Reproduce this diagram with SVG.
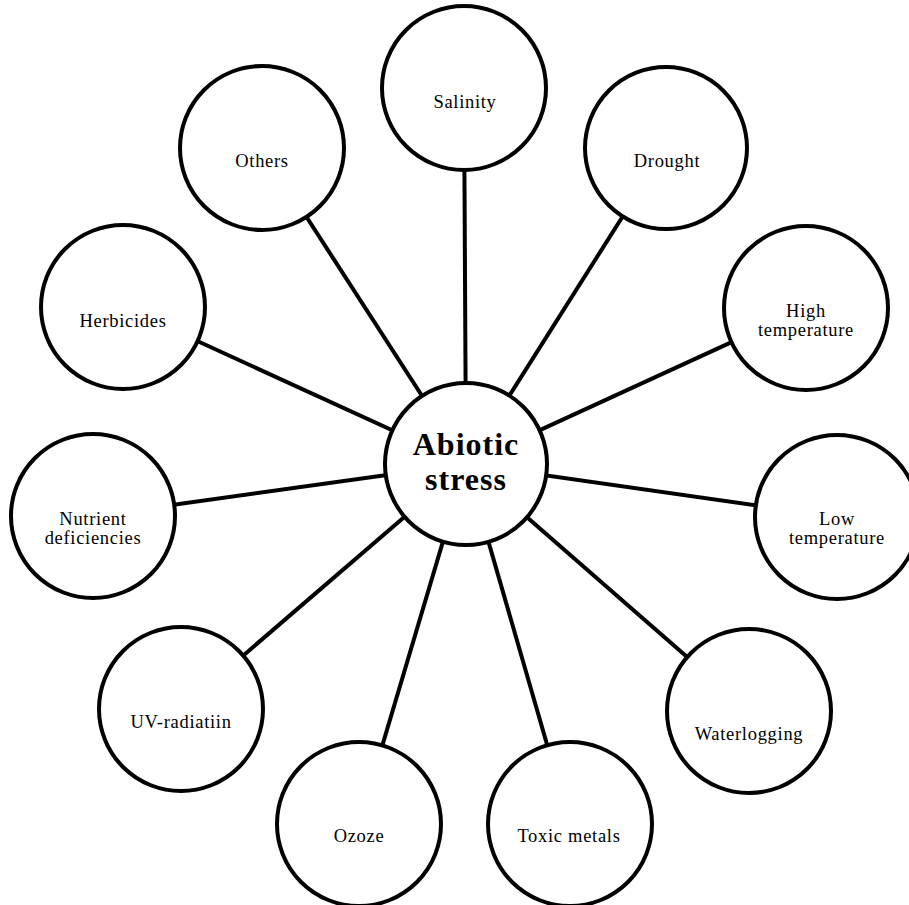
<svg xmlns="http://www.w3.org/2000/svg" width="909" height="905" viewBox="0 0 909 905">
<style>
.c{fill:#fff;stroke:#000;stroke-width:4}
.l{stroke:#000;stroke-width:4;fill:none}
.t{font-family:"Liberation Serif","Times New Roman",serif;font-size:18.5px;letter-spacing:0.7px;text-anchor:middle;fill:#000}
.m{font-family:"Liberation Serif","Times New Roman",serif;font-size:32px;font-weight:bold;letter-spacing:1px;text-anchor:middle;fill:#000}
</style>
<rect width="909" height="905" fill="#fff"/>
<g id="connectors">
<line class="l" x1="466" y1="464" x2="464" y2="88"/>
<line class="l" x1="466" y1="464" x2="666" y2="148"/>
<line class="l" x1="466" y1="464" x2="806" y2="308"/>
<line class="l" x1="466" y1="464" x2="837" y2="517"/>
<line class="l" x1="466" y1="464" x2="749" y2="711"/>
<line class="l" x1="466" y1="464" x2="570" y2="824"/>
<line class="l" x1="466" y1="464" x2="359" y2="824"/>
<line class="l" x1="466" y1="464" x2="181" y2="709"/>
<line class="l" x1="466" y1="464" x2="93" y2="516"/>
<line class="l" x1="466" y1="464" x2="123" y2="307"/>
<line class="l" x1="466" y1="464" x2="262" y2="148"/>
</g>
<g id="abiotic"><circle class="c" cx="466" cy="464" r="81"/><text class="m" x="466" y="455">Abiotic</text><text class="m" x="466" y="490">stress</text></g>
<g id="salinity"><circle class="c" cx="464" cy="88" r="82"/><text class="t" x="465" y="108">Salinity</text></g>
<g id="drought"><circle class="c" cx="666" cy="148" r="81"/><text class="t" x="667" y="167">Drought</text></g>
<g id="hightemp"><circle class="c" cx="806" cy="308" r="82"/><text class="t" x="806" y="317">High</text><text class="t" x="806" y="336">temperature</text></g>
<g id="lowtemp"><circle class="c" cx="837" cy="517" r="82"/><text class="t" x="837" y="525">Low</text><text class="t" x="837" y="544">temperature</text></g>
<g id="waterlogging"><circle class="c" cx="749" cy="711" r="82"/><text class="t" x="749" y="740">Waterlogging</text></g>
<g id="toxic"><circle class="c" cx="570" cy="824" r="82"/><text class="t" x="569" y="842">Toxic metals</text></g>
<g id="ozoze"><circle class="c" cx="359" cy="824" r="82"/><text class="t" x="359" y="842">Ozoze</text></g>
<g id="uv"><circle class="c" cx="181" cy="709" r="82"/><text class="t" x="181" y="728">UV-radiatiin</text></g>
<g id="nutrient"><circle class="c" cx="93" cy="516" r="82"/><text class="t" x="93" y="525">Nutrient</text><text class="t" x="93" y="544">deficiencies</text></g>
<g id="herbicides"><circle class="c" cx="123" cy="307" r="82"/><text class="t" x="123" y="327">Herbicides</text></g>
<g id="others"><circle class="c" cx="262" cy="148" r="82"/><text class="t" x="262" y="167">Others</text></g>
</svg>
